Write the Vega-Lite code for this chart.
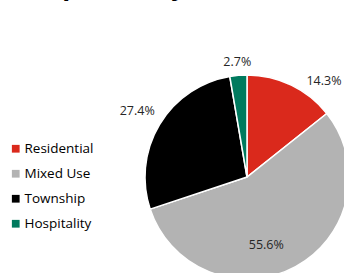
{
  "$schema": "https://vega.github.io/schema/vega-lite/v6.json",
  "autosize": "none",
  "width": 204,
  "height": 204,
  "padding": {"left": 145, "top": 75, "right": 0, "bottom": 0},
  "background": "white",
  "title": {
    "text": "Development by Asset (in sf)",
    "anchor": "middle",
    "dx": -89,
    "baseline": "alphabetic",
    "offset": 0,
    "dy": -22,
    "font": "Open Sans",
    "fontSize": 26,
    "fontWeight": "bold",
    "color": "#000000"
  },
  "config": {"view": {"stroke": null}},
  "data": {
    "values": [
      {"idx": 1, "asset": "Residential", "share": 14.3, "label": "14.3%"},
      {"idx": 2, "asset": "Mixed Use", "share": 55.6, "label": "55.6%"},
      {"idx": 3, "asset": "Township", "share": 27.4, "label": "27.4%"},
      {"idx": 4, "asset": "Hospitality", "share": 2.7, "label": "2.7%"}
    ]
  },
  "encoding": {
    "theta": {"field": "share", "type": "quantitative", "stack": true},
    "order": {"field": "idx", "type": "quantitative"}
  },
  "layer": [
    {
      "mark": {"type": "arc", "outerRadius": 102, "stroke": "white", "strokeWidth": 1.5},
      "encoding": {
        "color": {
          "field": "asset",
          "type": "nominal",
          "scale": {
            "domain": ["Residential", "Mixed Use", "Township", "Hospitality"],
            "range": ["#DA291C", "#B3B3B3", "#000000", "#007A5E"]
          },
          "legend": {
            "title": null,
            "orient": "none",
            "legendX": -136,
            "legendY": 67,
            "symbolType": "square",
            "symbolSize": 60,
            "symbolStrokeWidth": 0,
            "labelFont": "Open Sans",
            "labelFontSize": 13.5,
            "labelColor": "#000000",
            "rowPadding": 10,
            "labelOffset": 2
          }
        }
      }
    },
    {
      "mark": {"type": "text", "radius": 115, "dx": 27, "dy": 8, "font": "Open Sans", "fontSize": 12.5, "color": "#262626"},
      "encoding": {"text": {"condition": {"test": "datum.asset === 'Residential'", "field": "label"}, "value": ""}}
    },
    {
      "mark": {"type": "text", "radius": 72, "dx": -15, "dy": 5, "font": "Open Sans", "fontSize": 12.5, "color": "#262626"},
      "encoding": {"text": {"condition": {"test": "datum.asset === 'Mixed Use'", "field": "label"}, "value": ""}}
    },
    {
      "mark": {"type": "text", "radius": 128, "font": "Open Sans", "fontSize": 12.5, "color": "#262626"},
      "encoding": {"text": {"condition": {"test": "datum.asset === 'Township'", "field": "label"}, "value": ""}}
    },
    {
      "mark": {"type": "text", "radius": 115, "font": "Open Sans", "fontSize": 12.5, "color": "#262626"},
      "encoding": {"text": {"condition": {"test": "datum.asset === 'Hospitality'", "field": "label"}, "value": ""}}
    }
  ]
}
